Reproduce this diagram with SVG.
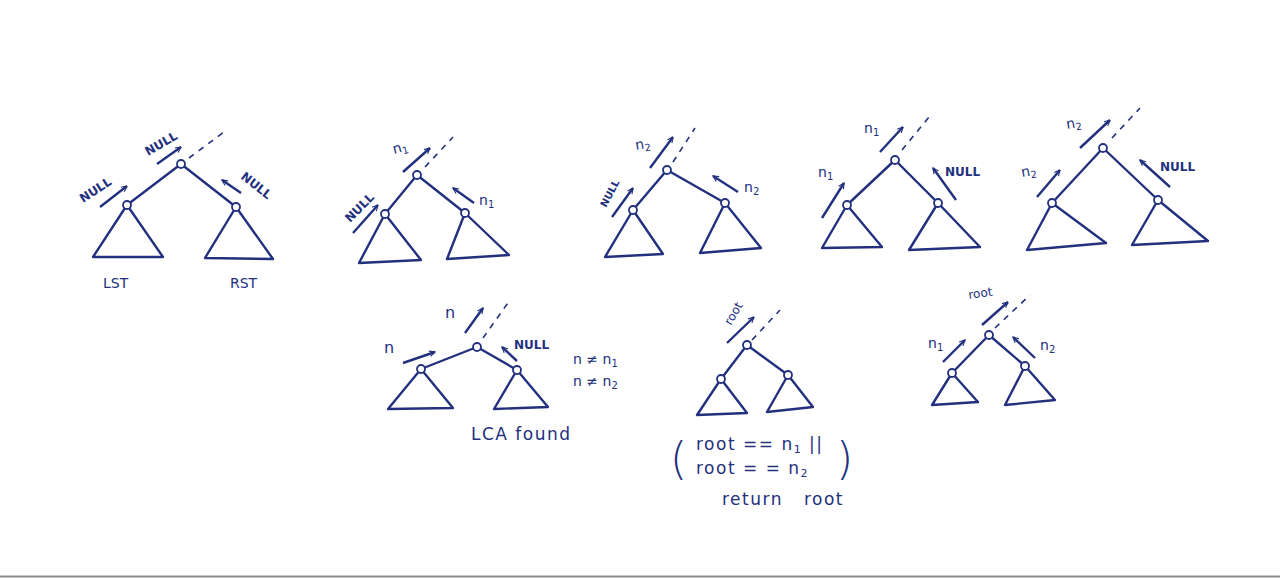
<svg xmlns="http://www.w3.org/2000/svg" width="1280" height="578" viewBox="0 0 1280 578">
<defs>
<marker id="ah" viewBox="0 0 10 10" refX="9" refY="5" markerWidth="7" markerHeight="7" orient="auto" markerUnits="userSpaceOnUse">
<path d="M1,1 L9,5 L1,9" fill="none" stroke="#22307e" stroke-width="1.6"/>
</marker>
<style>
.e{stroke:#22307e;stroke-width:2.4;fill:none;stroke-linecap:round;stroke-linejoin:round}
.d{stroke:#22307e;stroke-width:1.6;fill:none;stroke-dasharray:6 6}
.a{stroke:#22307e;stroke-width:2.4;fill:none;marker-end:url(#ah)}
.n{fill:#fff;stroke:#22307e;stroke-width:1.8}
.t{fill:#22307e;font-family:"DejaVu Sans",sans-serif;font-size:14px}
.s{fill:#22307e;font-family:"DejaVu Sans",sans-serif;font-size:12px;font-weight:bold}
.b{fill:#22307e;font-family:"DejaVu Sans",sans-serif;font-size:16px}
.m{fill:#22307e;font-family:"DejaVu Sans",sans-serif;font-size:17px;letter-spacing:1.5px}
.p{fill:#22307e;font-family:"DejaVu Sans",sans-serif;font-size:44px;font-weight:200}
</style>
</defs>
<rect width="1280" height="578" fill="#fff"/>
<line x1="0" y1="576.5" x2="1280" y2="576.5" stroke="#888" stroke-width="2"/>

<g id="tree1">
<line class="d" x1="189" y1="158" x2="224" y2="132"/>
<path class="e" d="M181,164 L127,205 M181,164 L236,207"/>
<path class="e" d="M127,205 L93,257 L163,257 Z"/>
<path class="e" d="M236,207 L205,258 L273,259 Z"/>
<circle class="n" cx="181" cy="164" r="4"/>
<circle class="n" cx="127" cy="205" r="4"/>
<circle class="n" cx="236" cy="207" r="4"/>
<line class="a" x1="100" y1="207" x2="127" y2="186"/>
<line class="a" x1="157" y1="164" x2="181" y2="147"/>
<line class="a" x1="241" y1="193" x2="222" y2="180"/>
<text class="s" transform="translate(83,203) rotate(-33)">NULL</text>
<text class="s" transform="translate(148,156) rotate(-30)">NULL</text>
<text class="s" transform="translate(240,178) rotate(38)">NULL</text>
<text class="t" x="103" y="288">LST</text>
<text class="t" x="230" y="288">RST</text>
</g>

<g id="tree2">
<line class="d" x1="425" y1="167" x2="453" y2="137"/>
<path class="e" d="M417,175 L385,214 M417,175 L465,213"/>
<path class="e" d="M385,214 L359,263 L421,260 Z"/>
<path class="e" d="M465,213 L447,259 L509,255 Z"/>
<circle class="n" cx="417" cy="175" r="4"/>
<circle class="n" cx="385" cy="214" r="4"/>
<circle class="n" cx="465" cy="213" r="4"/>
<line class="a" x1="403" y1="172" x2="430" y2="148"/>
<line class="a" x1="353" y1="233" x2="378" y2="205"/>
<line class="a" x1="474" y1="203" x2="453" y2="188"/>
<text class="t" transform="translate(394,154) rotate(-15)">n<tspan font-size="10" dy="3">1</tspan></text>
<text class="s" transform="translate(350,223) rotate(-45)">NULL</text>
<text class="t" x="479" y="205">n<tspan font-size="10" dy="3">1</tspan></text>
</g>

<g id="tree3">
<line class="d" x1="673" y1="162" x2="695" y2="128"/>
<path class="e" d="M667,170 L633,210 M667,170 L725,203"/>
<path class="e" d="M633,210 L605,257 L663,254 Z"/>
<path class="e" d="M725,203 L700,253 L761,248 Z"/>
<circle class="n" cx="667" cy="170" r="4"/>
<circle class="n" cx="633" cy="210" r="4"/>
<circle class="n" cx="725" cy="203" r="4"/>
<line class="a" x1="650" y1="168" x2="673" y2="137"/>
<line class="a" x1="612" y1="217" x2="633" y2="188"/>
<line class="a" x1="738" y1="192" x2="713" y2="176"/>
<text class="t" transform="translate(636,150) rotate(-10)">n<tspan font-size="10" dy="3">2</tspan></text>
<text class="s" style="font-size:10px" transform="translate(606,208) rotate(-62)">NULL</text>
<text class="t" x="744" y="192">n<tspan font-size="10" dy="3">2</tspan></text>
</g>

<g id="tree4">
<line class="d" x1="902" y1="150" x2="929" y2="117"/>
<path class="e" d="M895,160 L847,205 M895,160 L938,203"/>
<path class="e" d="M847,205 L822,248 L882,247 Z"/>
<path class="e" d="M938,203 L909,250 L980,247 Z"/>
<circle class="n" cx="895" cy="160" r="4"/>
<circle class="n" cx="847" cy="205" r="4"/>
<circle class="n" cx="938" cy="203" r="4"/>
<line class="a" x1="880" y1="152" x2="903" y2="127"/>
<line class="a" x1="822" y1="218" x2="844" y2="183"/>
<line class="a" x1="956" y1="200" x2="933" y2="168"/>
<text class="t" x="864" y="133">n<tspan font-size="10" dy="3">1</tspan></text>
<text class="t" x="818" y="177">n<tspan font-size="10" dy="3">1</tspan></text>
<text class="s" x="945" y="176">NULL</text>
</g>

<g id="tree5">
<line class="d" x1="1112" y1="138" x2="1140" y2="108"/>
<path class="e" d="M1103,148 L1052,203 M1103,148 L1158,200"/>
<path class="e" d="M1052,203 L1027,250 L1106,243 Z"/>
<path class="e" d="M1158,200 L1132,245 L1208,241 Z"/>
<circle class="n" cx="1103" cy="148" r="4"/>
<circle class="n" cx="1052" cy="203" r="4"/>
<circle class="n" cx="1158" cy="200" r="4"/>
<line class="a" x1="1080" y1="148" x2="1110" y2="120"/>
<line class="a" x1="1037" y1="197" x2="1060" y2="170"/>
<line class="a" x1="1170" y1="187" x2="1140" y2="160"/>
<text class="t" transform="translate(1067,129) rotate(-10)">n<tspan font-size="10" dy="3">2</tspan></text>
<text class="t" transform="translate(1022,177) rotate(-10)">n<tspan font-size="10" dy="3">2</tspan></text>
<text class="s" x="1160" y="171">NULL</text>
</g>

<g id="tree6">
<line class="d" x1="483" y1="338" x2="510" y2="300"/>
<path class="e" d="M477,347 L421,369 M477,347 L517,370"/>
<path class="e" d="M421,369 L388,409 L453,408 Z"/>
<path class="e" d="M517,370 L494,409 L548,407 Z"/>
<circle class="n" cx="477" cy="347" r="4"/>
<circle class="n" cx="421" cy="369" r="4"/>
<circle class="n" cx="517" cy="370" r="4"/>
<line class="a" x1="465" y1="333" x2="483" y2="308"/>
<line class="a" x1="403" y1="363" x2="435" y2="352"/>
<line class="a" x1="517" y1="361" x2="502" y2="347"/>
<text class="b" x="445" y="318">n</text>
<text class="b" x="384" y="353">n</text>
<text class="s" x="514" y="349">NULL</text>
<text class="t" x="573" y="364">n ≠ n<tspan font-size="10" dy="3">1</tspan></text>
<text class="t" x="573" y="386">n ≠ n<tspan font-size="10" dy="3">2</tspan></text>
<text class="m" x="471" y="440">LCA found</text>
</g>

<g id="tree7">
<line class="d" x1="752" y1="340" x2="780" y2="310"/>
<path class="e" d="M747,345 L721,379 M747,345 L788,375"/>
<path class="e" d="M721,379 L697,415 L747,413 Z"/>
<path class="e" d="M788,375 L767,412 L813,407 Z"/>
<circle class="n" cx="747" cy="345" r="4"/>
<circle class="n" cx="721" cy="379" r="4"/>
<circle class="n" cx="788" cy="375" r="4"/>
<line class="a" x1="727" y1="343" x2="754" y2="317"/>
<text class="t" style="font-size:12px" transform="translate(731,326) rotate(-60)">root</text>
<text class="p" x="670" y="474">(</text>
<text class="p" x="836" y="474">)</text>
<text class="m" x="696" y="450">root == n<tspan font-size="11" dy="3">1</tspan><tspan dy="-3"> ||</tspan></text>
<text class="m" x="696" y="474">root = = n<tspan font-size="11" dy="3">2</tspan></text>
<text class="m" x="722" y="505" style="word-spacing:14px">return root</text>
</g>

<g id="tree8">
<line class="d" x1="995" y1="328" x2="1030" y2="295"/>
<path class="e" d="M989,335 L952,373 M989,335 L1025,366"/>
<path class="e" d="M952,373 L932,405 L978,402 Z"/>
<path class="e" d="M1025,366 L1005,405 L1055,400 Z"/>
<circle class="n" cx="989" cy="335" r="4"/>
<circle class="n" cx="952" cy="373" r="4"/>
<circle class="n" cx="1025" cy="366" r="4"/>
<line class="a" x1="982" y1="325" x2="1008" y2="302"/>
<line class="a" x1="943" y1="362" x2="965" y2="340"/>
<line class="a" x1="1035" y1="358" x2="1013" y2="337"/>
<text class="t" style="font-size:12px" transform="translate(969,299) rotate(-8)">root</text>
<text class="t" x="928" y="348">n<tspan font-size="10" dy="3">1</tspan></text>
<text class="t" x="1040" y="350">n<tspan font-size="10" dy="3">2</tspan></text>
</g>
</svg>
